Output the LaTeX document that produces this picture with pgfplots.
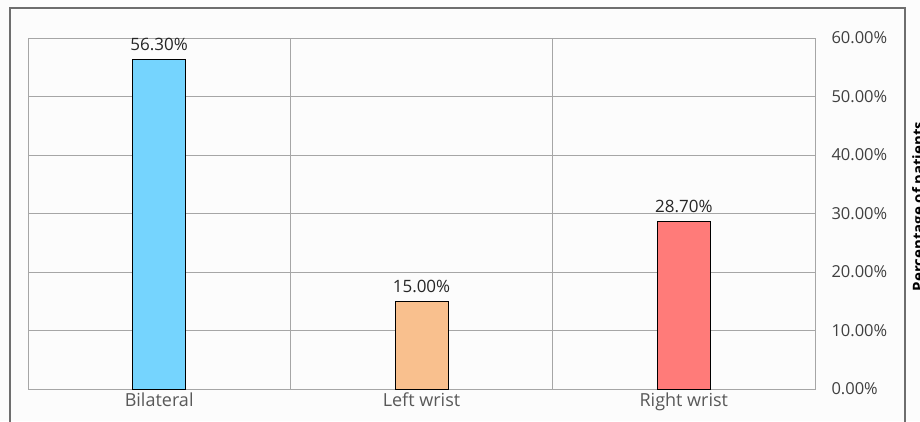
\documentclass[border=0pt]{standalone}
\usepackage{fontspec}
\setmainfont{Open Sans}
\usepackage{pgfplots}
\pgfplotsset{compat=1.18}
\definecolor{framegray}{HTML}{6E6E6E}
\definecolor{gridgray}{HTML}{A6A6A6}
\definecolor{bgwhite}{HTML}{FCFCFC}
\definecolor{labelgray}{HTML}{595959}
\definecolor{tickgray}{HTML}{404040}
\definecolor{valtext}{HTML}{262626}
\definecolor{barblue}{HTML}{75D4FE}
\definecolor{barpeach}{HTML}{F9C08E}
\definecolor{barsalmon}{HTML}{FF7B79}
\begin{document}
\begin{tikzpicture}[x=1pt,y=1pt]
\clip (0,0) rectangle (920,421);
\fill[bgwhite] (0,0) rectangle (920,421);
% outer frame around the chart
\draw[framegray, line width=2.5pt] (10,-10) -- (10,413) -- (905,413) -- (905,-10);
\begin{axis}[
  at={(28pt,32pt)}, anchor=south west,
  scale only axis, width=787pt, height=351pt,
  xmin=-0.5, xmax=2.5, ymin=0, ymax=60,
  ybar, bar width=53pt, bar shift=0pt,
  /pgf/number format/assume math mode=true,
  xtick={0,1,2}, xticklabels={Bilateral,Left wrist,Right wrist},
  ytick={0,10,20,30,40,50,60},
  yticklabels={0.00\%,10.00\%,20.00\%,30.00\%,40.00\%,50.00\%,60.00\%},
  yticklabel pos=right,
  major tick length=0pt, minor tick length=0pt,
  minor xtick={0.5,1.5}, xminorgrids, ymajorgrids,
  grid style={gridgray, line width=1pt},
  minor grid style={gridgray, line width=1pt},
  axis line style={gridgray, line width=1pt},
  xticklabel style={font=\fontsize{18}{21}\selectfont, text=labelgray, yshift=0pt},
  yticklabel style={font=\fontsize{16.5}{19}\selectfont, text=tickgray, anchor=west, xshift=13pt},
  ylabel={\bfseries Percentage of patients},
  ylabel style={at={(axis description cs:1.1233,0.52)}, anchor=north, font=\fontsize{15}{18}\selectfont, text=black, inner sep=0pt},
  nodes near coords={\pgfmathprintnumber[fixed,precision=2,zerofill]{\pgfplotspointmeta}\%},
  every node near coord/.append style={font=\fontsize{17}{20}\selectfont, text=valtext, anchor=south, yshift=5pt},
]
\addplot[fill=barblue, draw=black, line width=0.8pt] coordinates {(0,56.3)};
\addplot[fill=barpeach, draw=black, line width=0.8pt] coordinates {(1,15.0)};
\addplot[fill=barsalmon, draw=black, line width=0.8pt] coordinates {(2,28.7)};
\end{axis}
\end{tikzpicture}
\end{document}
